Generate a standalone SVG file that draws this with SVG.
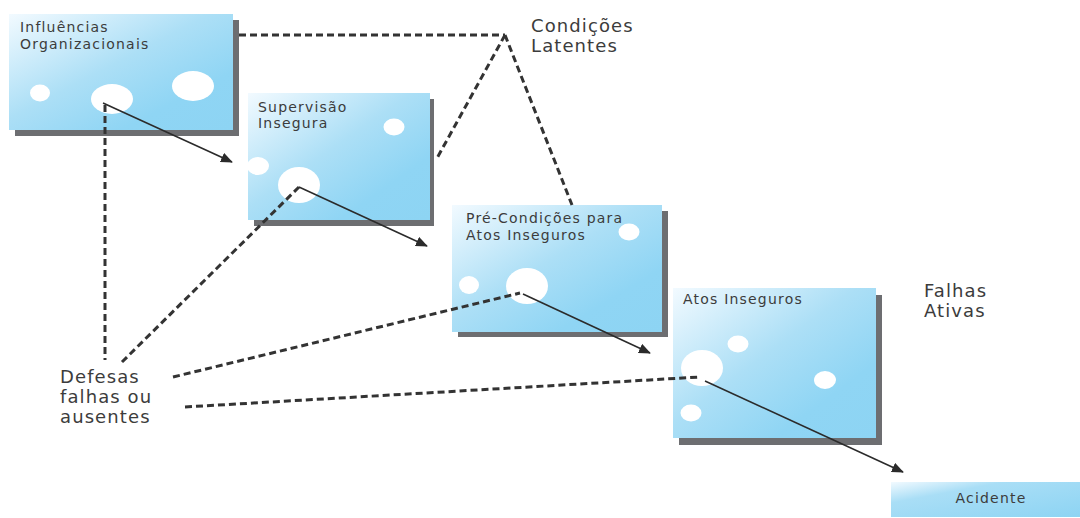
<svg xmlns="http://www.w3.org/2000/svg" width="1080" height="518" viewBox="0 0 1080 518">
<style>
.shadow{fill:#6d6e71}
.box{fill:url(#g)}
.spot{fill:#ffffff}
.t{font-family:"DejaVu Sans","Liberation Sans",sans-serif;fill:#3c3c3c}
.tb{font-size:14px;letter-spacing:1.2px}
.tl{font-size:18px;letter-spacing:1.1px}
.solid{stroke:#2b2b2b;stroke-width:1.6;fill:none;marker-end:url(#ah)}
.dash{stroke:#333333;stroke-width:3;fill:none;stroke-dasharray:7 4}
</style>
<defs>
<linearGradient id="g" x1="0" y1="0" x2="1" y2="1">
<stop offset="0" stop-color="#f2faff"/>
<stop offset="0.45" stop-color="#acdff6"/>
<stop offset="0.75" stop-color="#8fd5f4"/>
<stop offset="1" stop-color="#8dd4f3"/>
</linearGradient>
<linearGradient id="g2" x1="0" y1="0" x2="1" y2="1">
<stop offset="0" stop-color="#f2faff"/>
<stop offset="0.3" stop-color="#a9def6"/>
<stop offset="1" stop-color="#8dd4f3"/>
</linearGradient>
<marker id="ah" markerWidth="12" markerHeight="10" refX="11" refY="5" orient="auto" markerUnits="userSpaceOnUse">
<path d="M0,0 L12,5 L0,10 Z" fill="#2b2b2b"/>
</marker>
</defs>

<g id="node-influencias">
<rect class="shadow" x="15" y="20" width="224" height="116"/>
<rect class="box" x="9" y="14" width="224" height="116"/>
<ellipse class="spot" cx="40" cy="93" rx="10" ry="8.5"/>
<ellipse class="spot" cx="112" cy="99" rx="21" ry="15"/>
<ellipse class="spot" cx="193" cy="86" rx="21" ry="15"/>
<text class="t tb" x="20" y="32">Influências</text>
<text class="t tb" x="20" y="49">Organizacionais</text>
</g>

<g id="node-supervisao">
<rect class="shadow" x="254" y="99" width="180" height="127"/>
<rect class="box" x="248" y="93" width="182" height="127"/>
<ellipse class="spot" cx="394" cy="127" rx="10.5" ry="8.5"/>
<ellipse class="spot" cx="258" cy="166" rx="11" ry="9"/>
<ellipse class="spot" cx="299" cy="185" rx="21" ry="18"/>
<text class="t tb" x="258" y="112">Supervisão</text>
<text class="t tb" x="258" y="128">Insegura</text>
</g>

<g id="node-precondicoes">
<rect class="shadow" x="458" y="211" width="210" height="126"/>
<rect class="box" x="452" y="205" width="210" height="127"/>
<ellipse class="spot" cx="629" cy="232" rx="10.5" ry="8.5"/>
<ellipse class="spot" cx="469" cy="285" rx="10" ry="9"/>
<ellipse class="spot" cx="527" cy="286" rx="21" ry="18"/>
<text class="t tb" x="466" y="223">Pré-Condições para</text>
<text class="t tb" x="466" y="240">Atos Inseguros</text>
</g>

<g id="node-atos">
<rect class="shadow" x="679" y="295" width="203" height="150"/>
<rect class="box" x="673" y="288" width="203" height="150"/>
<ellipse class="spot" cx="738" cy="344" rx="10.5" ry="8.5"/>
<ellipse class="spot" cx="702" cy="368" rx="21" ry="18"/>
<ellipse class="spot" cx="825" cy="380" rx="11" ry="9"/>
<ellipse class="spot" cx="691" cy="413" rx="10.5" ry="8.5"/>
<text class="t tb" x="683" y="304">Atos Inseguros</text>
</g>

<g id="node-acidente">
<rect x="891" y="482" width="189" height="35" fill="url(#g2)"/>
<text class="t tb" x="991" y="503" text-anchor="middle">Acidente</text>
</g>

<g id="labels">
<text class="t tl" x="531" y="32">Condições</text>
<text class="t tl" x="531" y="52">Latentes</text>
<text class="t tl" x="924" y="297">Falhas</text>
<text class="t tl" x="924" y="317">Ativas</text>
<text class="t tl" x="60" y="383">Defesas</text>
<text class="t tl" x="60" y="403">falhas ou</text>
<text class="t tl" x="60" y="423">ausentes</text>
</g>

<g id="connectors">
<path class="solid" d="M103,103 L232,162"/>
<path class="solid" d="M299,187 L427,246"/>
<path class="solid" d="M523,294 L650,353"/>
<path class="solid" d="M705,381 L903,472"/>
<path class="dash" d="M239,35 L505,35"/>
<path class="dash" d="M505,35 L436,160"/>
<path class="dash" d="M505,35 L572,205"/>
<path class="dash" d="M105,105 L105,360"/>
<path class="dash" d="M122,362 L299,187"/>
<path class="dash" d="M173,377 L520,293"/>
<path class="dash" d="M185,407 L700,377"/>
</g>
</svg>
